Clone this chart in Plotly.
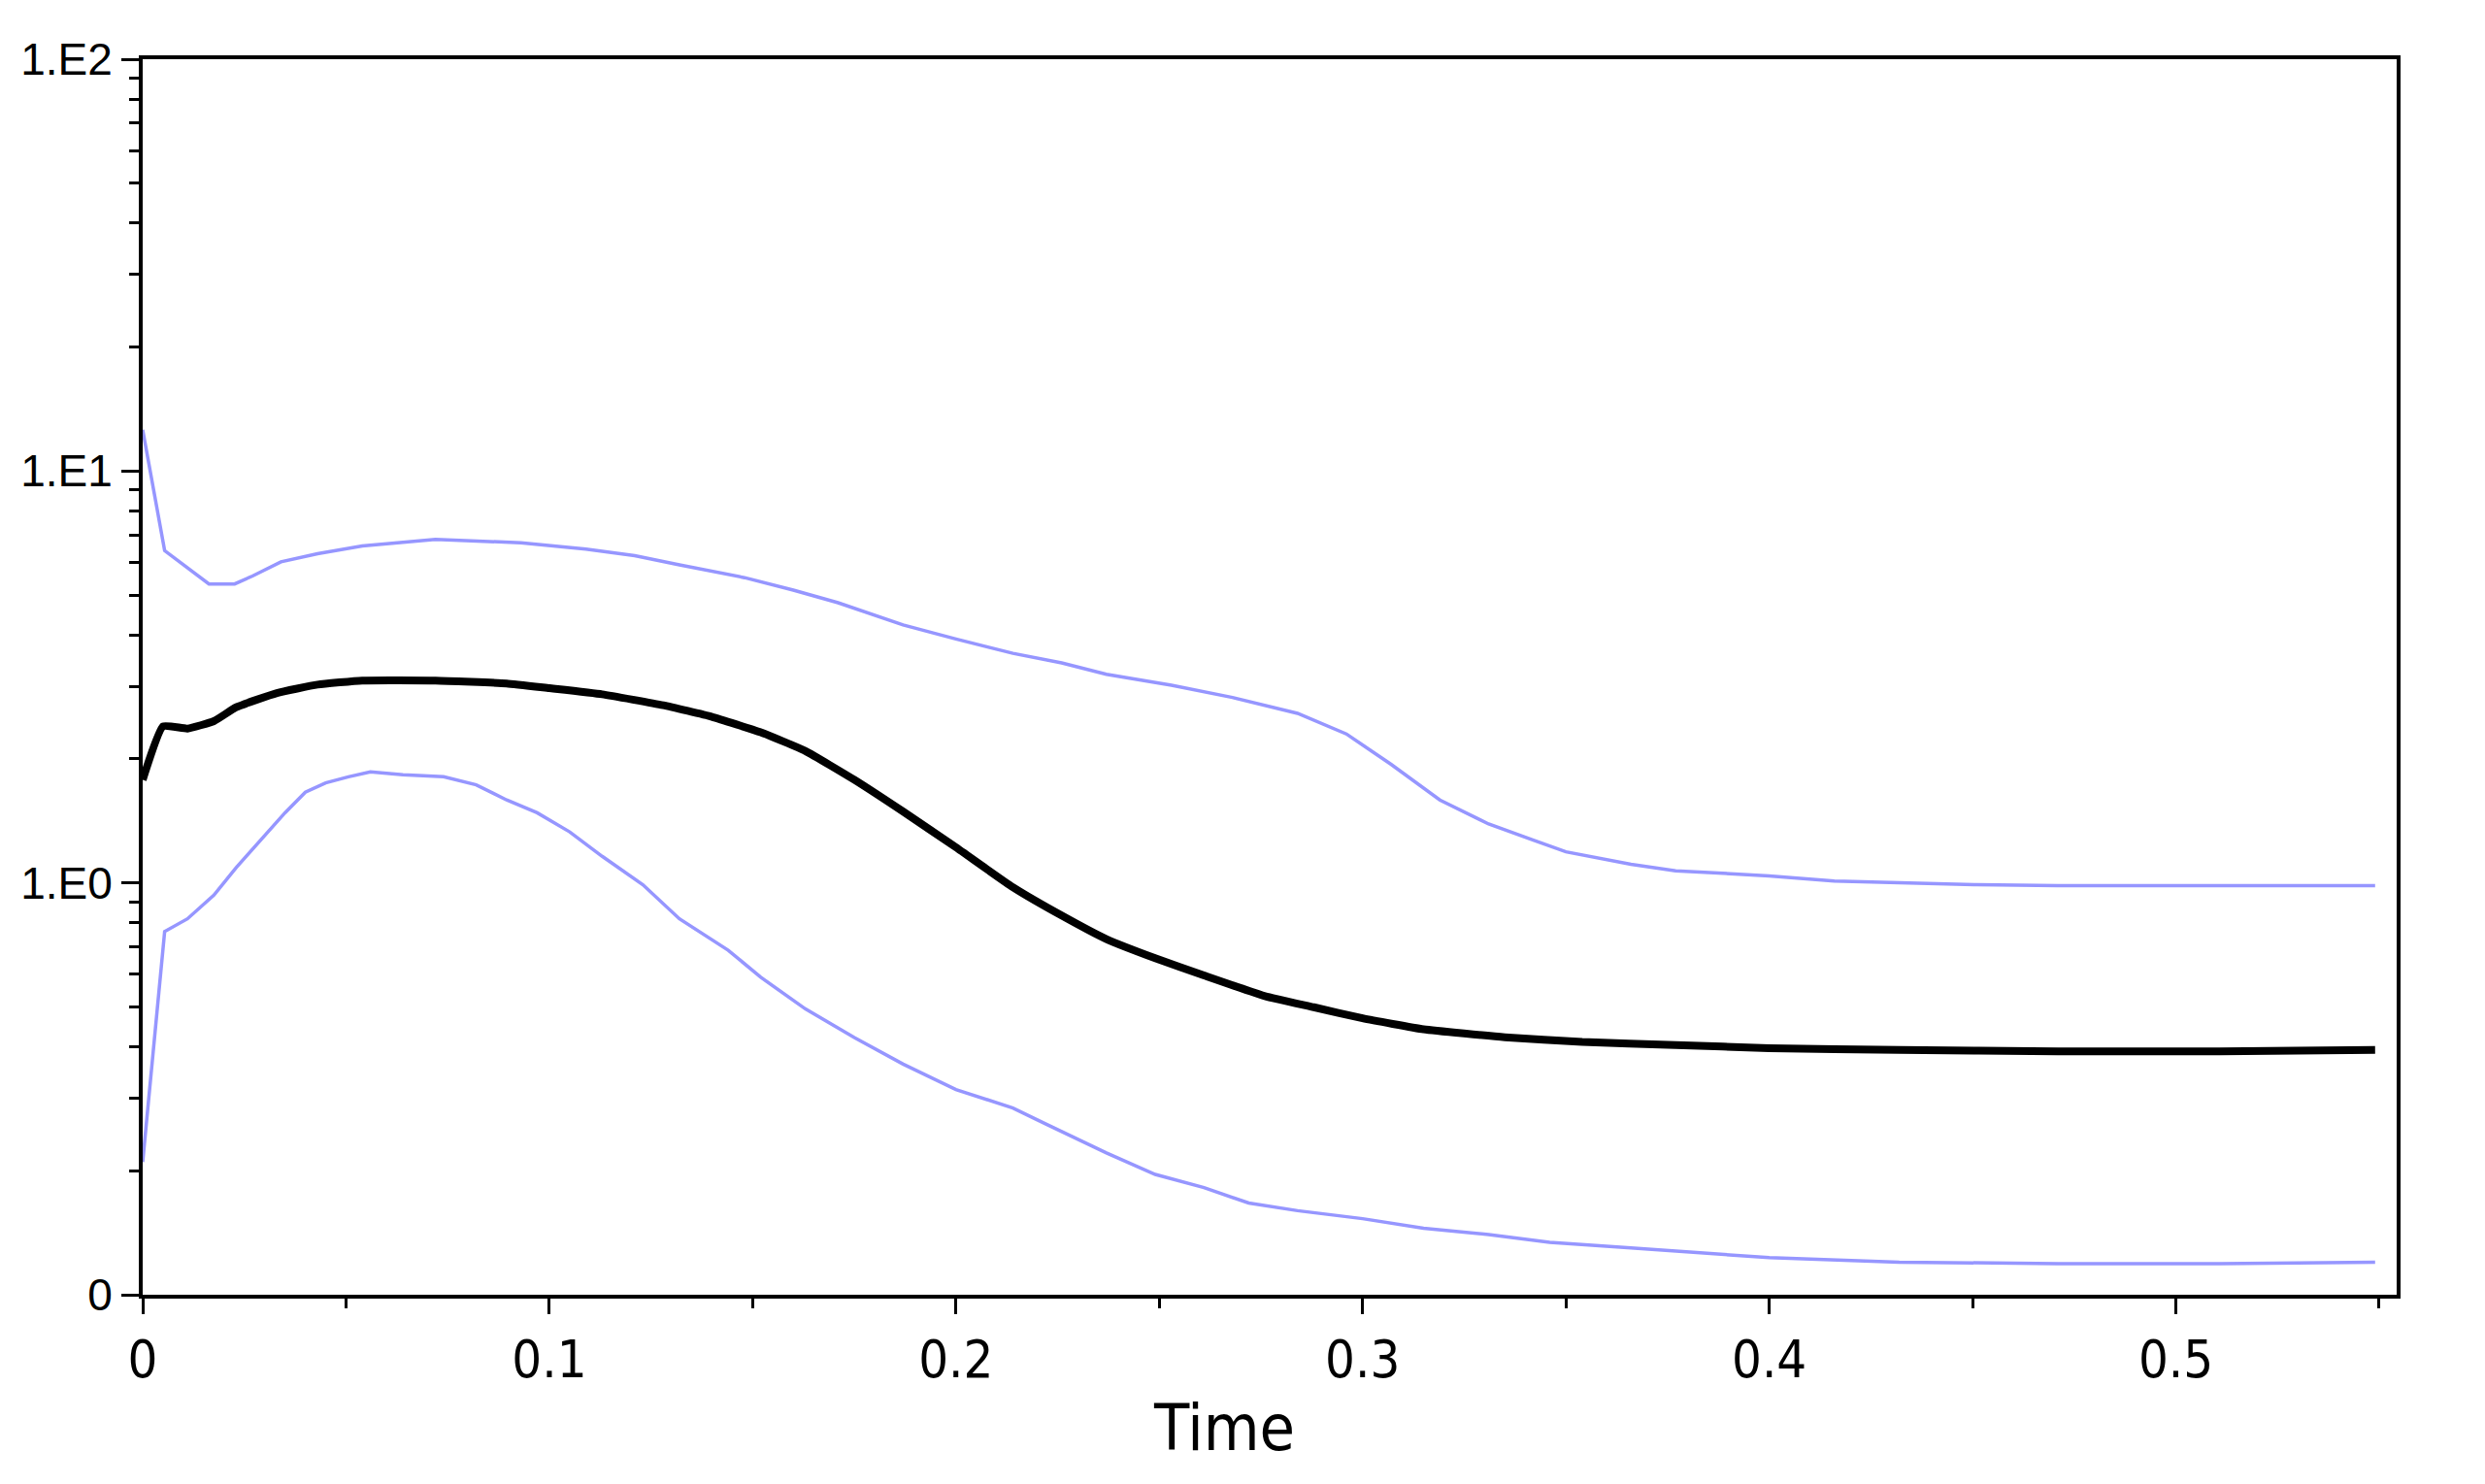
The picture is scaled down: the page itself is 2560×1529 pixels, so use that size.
import plotly.graph_objects as go

# time axis, shared by the three curves
t_mean = [0, 0.005, 0.011, 0.0175, 0.023, 0.033, 0.043, 0.054, 0.072, 0.0895, 0.1,
          0.113, 0.128, 0.14, 0.152, 0.163, 0.175, 0.187, 0.2, 0.214, 0.226, 0.237,
          0.249, 0.261, 0.276, 0.288, 0.3, 0.315, 0.335, 0.354, 0.377, 0.4, 0.432,
          0.471, 0.51, 0.549]
mean = [1.78, 2.40, 2.37, 2.47, 2.67, 2.89, 3.03, 3.10, 3.10, 3.05, 2.97,
        2.87, 2.70, 2.53, 2.32, 2.09, 1.78, 1.49, 1.22, 0.976, 0.833, 0.730,
        0.656, 0.596, 0.531, 0.499, 0.469, 0.441, 0.422, 0.411, 0.404, 0.397, 0.393,
        0.390, 0.390, 0.393]

t_upper = [0, 0.0054, 0.0163, 0.0226, 0.027, 0.034, 0.043, 0.054, 0.072, 0.093, 0.109,
           0.121, 0.132, 0.148, 0.16, 0.171, 0.187, 0.2, 0.214, 0.226, 0.237, 0.253,
           0.268, 0.284, 0.296, 0.307, 0.319, 0.331, 0.342, 0.35, 0.366, 0.377, 0.4,
           0.416, 0.451, 0.471, 0.51, 0.549]
upper = [12.6, 6.41, 5.32, 5.32, 5.56, 6.02, 6.30, 6.58, 6.82, 6.70, 6.46,
         6.23, 5.92, 5.51, 5.14, 4.79, 4.23, 3.91, 3.61, 3.42, 3.21, 3.02,
         2.82, 2.58, 2.30, 1.94, 1.59, 1.39, 1.27, 1.19, 1.11, 1.07, 1.04,
         1.01, 0.99, 0.985, 0.985, 0.985]

t_lower = [0, 0.0054, 0.011, 0.0175, 0.023, 0.029, 0.035, 0.04, 0.045, 0.0506, 0.056,
           0.064, 0.074, 0.082, 0.0895, 0.097, 0.105, 0.113, 0.123, 0.132, 0.144,
           0.152, 0.163, 0.175, 0.187, 0.2, 0.214, 0.222, 0.237, 0.249, 0.261, 0.272,
           0.284, 0.3, 0.315, 0.331, 0.346, 0.366, 0.385, 0.4, 0.432, 0.471, 0.51, 0.549]
lower = [0.21, 0.762, 0.818, 0.934, 1.09, 1.27, 1.48, 1.66, 1.75, 1.81, 1.86,
         1.83, 1.81, 1.73, 1.59, 1.48, 1.33, 1.16, 0.99, 0.818, 0.686,
         0.590, 0.494, 0.421, 0.363, 0.315, 0.284, 0.260, 0.221, 0.196, 0.182, 0.167,
         0.160, 0.153, 0.145, 0.140, 0.134, 0.130, 0.126, 0.123, 0.120, 0.119, 0.119, 0.120]

y_tickvals = [0.1, 1, 10, 100]
y_ticktext = ["0", "1.E0", "1.E1", "1.E2"]
x_tickvals = [0, 0.1, 0.2, 0.3, 0.4, 0.5]
x_ticktext = ["0", "0.1", "0.2", "0.3", "0.4", "0.5"]

blue = "#9696ff"
narrow = "Liberation Sans Narrow, DejaVu Sans Condensed, Roboto Condensed, Liberation Sans"

fig = go.Figure()
fig.add_trace(go.Scatter(x=t_upper, y=upper, mode="lines", line=dict(color=blue, width=3.5)))
fig.add_trace(go.Scatter(x=t_lower, y=lower, mode="lines", line=dict(color=blue, width=3.5)))
fig.add_trace(go.Scatter(x=t_mean, y=mean, mode="lines",
                         line=dict(color="black", width=8, shape="spline", smoothing=0.4)))

fig.update_layout(
    width=2560, height=1529,
    margin=dict(l=139, r=99, t=53, b=203),
    plot_bgcolor="white", paper_bgcolor="white",
    showlegend=False,
    annotations=[dict(text="Time", x=0.266, xref="x", y=-0.108, yref="paper",
                      showarrow=False, yanchor="middle",
                      font=dict(family=narrow, size=66, color="black"))],
)
fig.update_xaxes(
    range=[0, 0.5543], tickvals=x_tickvals, ticktext=x_ticktext,
    ticks="outside", ticklen=16, tickwidth=3, tickcolor="black",
    minor=dict(tickvals=[0.05, 0.15, 0.25, 0.35, 0.45, 0.55], ticks="outside",
               ticklen=10, tickwidth=3, tickcolor="black"),
    showline=True, linecolor="black", linewidth=4, mirror=True,
    showgrid=False, zeroline=False,
    tickfont=dict(family=narrow, size=54, color="black"),
)
fig.update_yaxes(
    type="log", range=[-1, 2], tickvals=y_tickvals, ticktext=y_ticktext,
    ticks="outside", ticklen=18, tickwidth=3, tickcolor="black",
    minor=dict(dtick="D1", ticks="outside", ticklen=10, tickwidth=3, tickcolor="black"),
    showline=True, linecolor="black", linewidth=4, mirror=True,
    showgrid=False, zeroline=False,
    tickfont=dict(family="Liberation Sans, Arial", size=46, color="black"),
)

fig.write_html("out.html")
